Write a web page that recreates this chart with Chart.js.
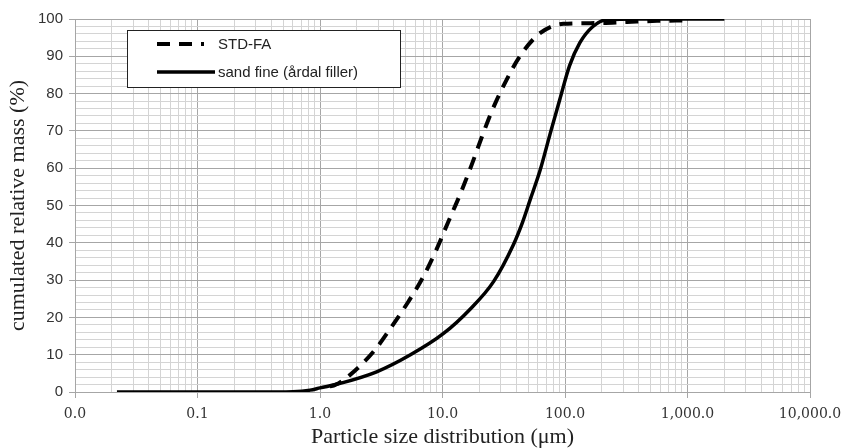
<!DOCTYPE html>
<html>
<head>
<meta charset="utf-8">
<script src="https://cdn.jsdelivr.net/npm/chart.js@4.4.1/dist/chart.umd.min.js"></script>
<style>
  html, body { margin: 0; padding: 0; background: #fff; }
  #wrap { width: 845px; height: 448px; }
</style>
</head>
<body>
<div id="wrap"><canvas id="psdChart" width="845" height="448"></canvas></div>
<script>
// particle size (um) and cumulated mass (%)
var stdX = [1.2, 1.33, 1.76, 2.81, 3.84, 5.26, 6.97, 8.96, 11.2, 13.9, 17.3, 20.8, 25.2, 32.3, 42.8, 62.5, 97, 182, 320, 565, 1000];
var stdY = [1.5, 1.9, 4.6, 11.3, 17.5, 24.2, 30.9, 38.3, 45.8, 52.9, 60.9, 68.1, 75.2, 82.8, 90, 96.2, 98.7, 98.9, 99.2, 99.5, 99.6];

var sandX = [0.022, 0.1, 0.3, 0.6, 0.83, 1.0, 1.46, 2.9, 5.43, 10.2, 16.8, 26.1, 37.9, 45, 51.9, 62.7, 75.3, 90.8, 109, 132, 169, 219, 400, 1000, 2000];
var sandY = [0, 0, 0, 0.1, 0.5, 1.1, 2.3, 5.4, 9.9, 15.7, 22.2, 29.6, 39.5, 45.5, 51.5, 59.5, 69, 78.5, 87.5, 93.6, 98, 99.8, 100, 100, 100];

var seriesNames = ['STD-FA', 'sand fine (årdal filler)'];

var xTickValues = [0.01, 0.1, 1, 10, 100, 1000, 10000];
var xTickLabels = ['0.0', '0.1', '1.0', '10.0', '100.0', '1,000.0', '10,000.0'];

function toPoints(xs, ys) {
  return xs.map(function (x, i) { return { x: x, y: ys[i] }; });
}

function isDecade(v) {
  var l = Math.log10(v);
  return Math.abs(l - Math.round(l)) < 1e-9;
}

// all log grid lines: 1..9 x each decade
var xGrid = [];
for (var e = -2; e < 4; e++) {
  for (var k = 1; k <= 9; k++) {
    xGrid.push(k * Math.pow(10, e));
  }
}
xGrid.push(10000);

var legendBox = {
  id: 'legendBox',
  afterDraw: function (chart) {
    var ctx = chart.ctx;
    var ds = chart.data.datasets;
    var x0 = 127, y0 = 30, w = 273, h = 57;
    ctx.save();
    ctx.fillStyle = '#fff';
    ctx.fillRect(x0, y0, w, h);
    ctx.strokeStyle = '#222';
    ctx.lineWidth = 1;
    ctx.strokeRect(x0 + 0.5, y0 + 0.5, w, h);
    var rows = [44, 72];
    ds.forEach(function (d, i) {
      ctx.beginPath();
      ctx.strokeStyle = d.borderColor;
      ctx.lineWidth = d.borderWidth;
      ctx.setLineDash(d.borderDash || []);
      ctx.moveTo(157, rows[i]);
      ctx.lineTo(i === 0 ? 204 : 215, rows[i]);
      ctx.stroke();
      ctx.setLineDash([]);
      ctx.fillStyle = '#222';
      ctx.font = '15px "Liberation Sans", Arial, sans-serif';
      ctx.textBaseline = 'middle';
      ctx.fillText(d.label, 218, rows[i] + 1);
    });
    ctx.restore();
  }
};

new Chart(document.getElementById('psdChart'), {
  type: 'line',
  data: {
    datasets: [{
      label: seriesNames[0],
      data: toPoints(stdX, stdY),
      borderColor: '#000',
      borderWidth: 4,
      borderDash: [13, 9],
      pointRadius: 0,
      fill: false,
      cubicInterpolationMode: 'monotone'
    }, {
      label: seriesNames[1],
      data: toPoints(sandX, sandY),
      borderColor: '#000',
      borderWidth: 3.5,
      pointRadius: 0,
      fill: false,
      cubicInterpolationMode: 'monotone'
    }]
  },
  options: {
    responsive: false,
    animation: false,
    layout: { padding: { top: 19, right: 35, left: 0, bottom: 0 } },
    plugins: {
      legend: { display: false },
      tooltip: { enabled: false }
    },
    scales: {
      x: {
        type: 'logarithmic',
        min: 0.01,
        max: 10000,
        afterBuildTicks: function (scale) {
          scale.ticks = xGrid.map(function (v) { return { value: v }; });
        },
        afterFit: function (scale) {
          scale.height = 56;
          scale.paddingLeft = 0;
          scale.paddingRight = 0;
        },
        grid: {
          color: function (c) { return isDecade(c.tick.value) ? '#a6a6a6' : '#d4d4d4'; },
          tickColor: function (c) { return isDecade(c.tick.value) ? '#a6a6a6' : 'rgba(0,0,0,0)'; },
          tickLength: 6
        },
        border: { color: '#a6a6a6' },
        ticks: {
          autoSkip: false,
          maxRotation: 0,
          padding: 8,
          color: '#333',
          font: { family: '"DejaVu Serif", serif', size: 14 },
          callback: function (value) {
            for (var i = 0; i < xTickValues.length; i++) {
              if (Math.abs(xTickValues[i] - value) < 1e-9 * xTickValues[i]) return xTickLabels[i];
            }
            return '';
          }
        },
        title: {
          display: true,
          text: 'Particle size distribution (μm)',
          color: '#222',
          font: { family: '"Liberation Serif", "Times New Roman", serif', size: 22, lineHeight: 1 },
          padding: { top: 0, bottom: 0 }
        }
      },
      y: {
        min: 0,
        max: 100,
        afterFit: function (scale) { scale.width = 75; },
        grid: {
          color: function (c) { return c.tick.value % 10 === 0 ? '#a6a6a6' : '#d4d4d4'; },
          tickColor: function (c) { return c.tick.value % 10 === 0 ? '#a6a6a6' : 'rgba(0,0,0,0)'; },
          tickLength: 6
        },
        border: { color: '#a6a6a6' },
        ticks: {
          stepSize: 2,
          autoSkip: false,
          padding: 6,
          color: '#333',
          font: { family: '"Liberation Sans", Arial, sans-serif', size: 15 },
          callback: function (value) { return value % 10 === 0 ? value : ''; }
        },
        title: {
          display: true,
          text: 'cumulated relative mass (%)',
          color: '#222',
          font: { family: '"Liberation Serif", "Times New Roman", serif', size: 22, lineHeight: 1 },
          padding: { top: 7, bottom: 0 }
        }
      }
    }
  },
  plugins: [legendBox]
});
</script>
</body>
</html>
